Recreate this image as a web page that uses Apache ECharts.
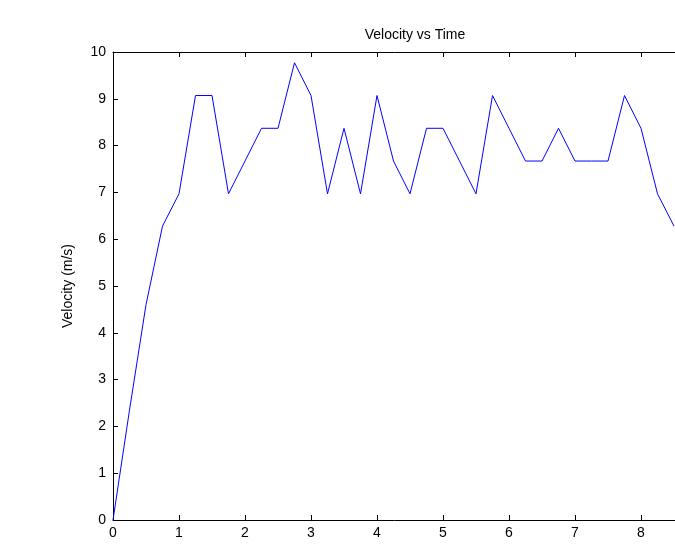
<!DOCTYPE html>
<html>
<head>
<meta charset="utf-8">
<script src="https://cdn.jsdelivr.net/npm/echarts@6/dist/echarts.min.js"></script>
<style>
html,body{margin:0;padding:0;background:#fff;}
#chart{width:675px;height:548px;}
</style>
</head>
<body>
<div id="chart"></div>
<script>
const chartTitle = 'Velocity vs Time';
const yAxisName = 'Velocity (m/s)';
const times = [0,0.25,0.5,0.75,1,1.25,1.5,1.75,2,2.25,2.5,2.75,3,3.25,3.5,3.75,4,4.25,4.5,4.75,5,5.25,5.5,5.75,6,6.25,6.5,6.75,7,7.25,7.5,7.75,8,8.25,8.5];
const velocity = [0,2.35,4.6,6.28,6.97,9.07,9.07,6.97,7.67,8.37,8.37,9.77,9.07,6.97,8.37,6.97,9.07,7.67,6.97,8.37,8.37,7.67,6.97,9.07,8.37,7.67,7.67,8.37,7.67,7.67,7.67,9.07,8.37,6.97,6.28];

const chart = echarts.init(document.getElementById('chart'), null, {renderer:'canvas'});
const font = 'Liberation Sans, Arial, sans-serif';
const axisLine = {show:true, onZero:false, lineStyle:{color:'#000', width:1}};
const tick = {show:true, inside:true, length:5, lineStyle:{color:'#000', width:1}};
chart.setOption({
  animation:false,
  backgroundColor:'#fff',
  title:{text:chartTitle, left:410, textAlign:'center', top:23,
    textStyle:{fontFamily:font, fontSize:14, fontWeight:'normal', color:'#000'}},
  grid:{left:113, top:52, width:594, height:468, containLabel:false, outerBoundsMode:'none'},
  xAxis:[
    {type:'value', min:0, max:9, interval:1, position:'bottom',
      axisLine:axisLine, axisTick:tick, splitLine:{show:false},
      axisLabel:{color:'#000', fontFamily:font, fontSize:14, margin:6}},
    {type:'value', min:0, max:9, interval:1, position:'top',
      axisLine:axisLine, axisTick:tick, splitLine:{show:false},
      axisLabel:{show:false}}
  ],
  yAxis:[
    {type:'value', min:0, max:10, interval:1, position:'left',
      name:yAxisName, nameLocation:'middle', nameGap:38, nameRotate:90,
      nameTextStyle:{color:'#000', fontFamily:font, fontSize:14},
      axisLine:axisLine, axisTick:tick, splitLine:{show:false},
      axisLabel:{color:'#000', fontFamily:font, fontSize:14, margin:7}}
  ],
  series:[{
    type:'line', xAxisIndex:0, yAxisIndex:0,
    data:times.map((t,i)=>[t, velocity[i]]),
    showSymbol:false, symbol:'none',
    lineStyle:{color:'#0000ff', width:1}
  }]
});
</script>
</body>
</html>
